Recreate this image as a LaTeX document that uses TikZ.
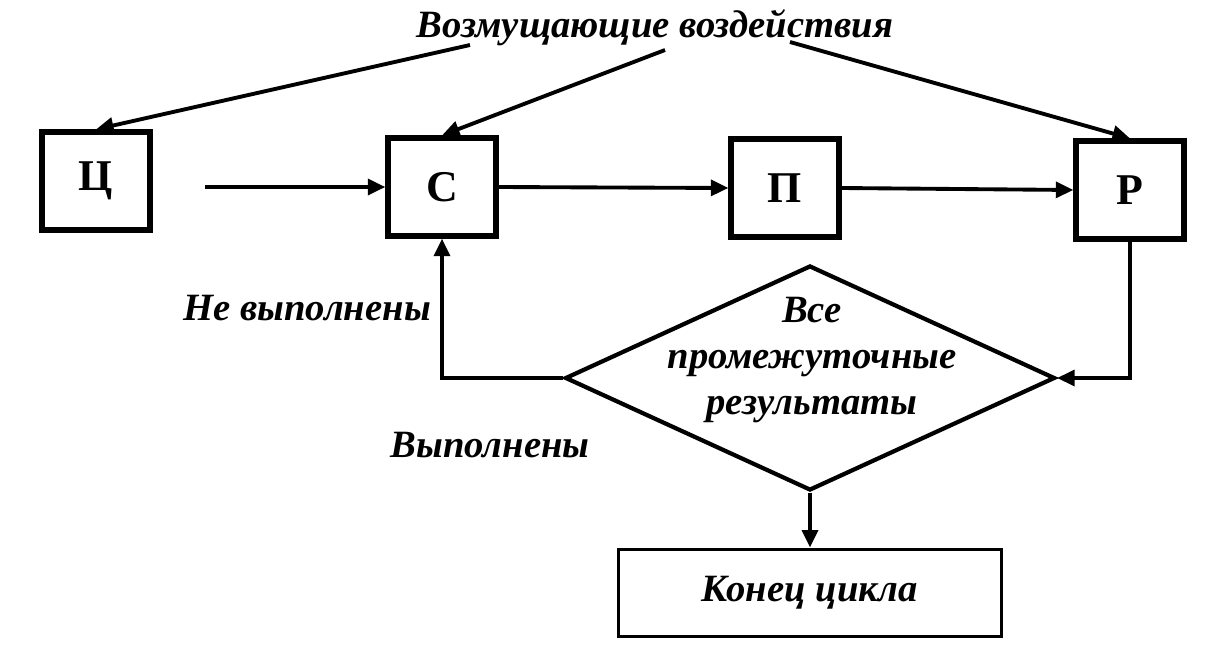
\documentclass[tikz,border=0pt]{standalone}
\usepackage{fontspec}
\setmainfont{Liberation Serif}
\usetikzlibrary{arrows.meta,positioning,shapes.geometric}

\begin{document}
\begin{tikzpicture}[x=0.02cm, y=-0.02cm, >={Triangle[length=10pt,width=9pt]},
  line width=2.2pt,
  blk/.style={draw, line width=3pt, minimum width=2.16cm, minimum height=1.96cm,
    font=\fontsize{25}{29}\selectfont\bfseries},
  lbl/.style={font=\fontsize{22}{26}\selectfont\bfseries\itshape, align=center, inner sep=0pt}]
  \useasboundingbox (0,0) rectangle (1224,656);

  \node[lbl] (dist) at (655,28) {Возмущающие воздействия};
  \coordinate (d1) at (470,45);
  \coordinate (d2) at (665,50);
  \coordinate (d3) at (790,42);

  \node[blk] (c) at (96,181) {Ц};
  \node[blk] (s) at (442,187) {С};
  \node[blk] (p) at (785,188) {П};
  \node[blk] (r) at (1130,190) {Р};
  \coordinate (in) at (205,187);

  \node[draw, diamond, minimum width=9.8cm, minimum height=4.5cm, inner sep=0pt,
    line width=2.4pt] (cond) at (810,378) {};
  \node[lbl] (cond-txt) at (812,360) {Все\\промежуточные\\результаты};

  \node[draw, lbl, minimum width=7.66cm, minimum height=1.74cm] (end) at (810,593) {Конец цикла};

  \node[lbl] (no) at (307,308) {Не выполнены};
  \node[lbl] (yes) at (490,445) {Выполнены};

  \draw[->] (d1) -- (c.north);
  \draw[->] (d2) -- (s.north);
  \draw[->] (d3) -- (r.north);

  \draw[->] (in) -- (s.west);
  \draw[->] (s.east) -- (p.west);
  \draw[->] (p.east) -- (r.west);

  \draw[->] (cond.west) -| (s.south);
  \draw[->] (r.south) |- (cond.east);
  \draw[->] (cond.south) -- (end.north);
\end{tikzpicture}
\end{document}
